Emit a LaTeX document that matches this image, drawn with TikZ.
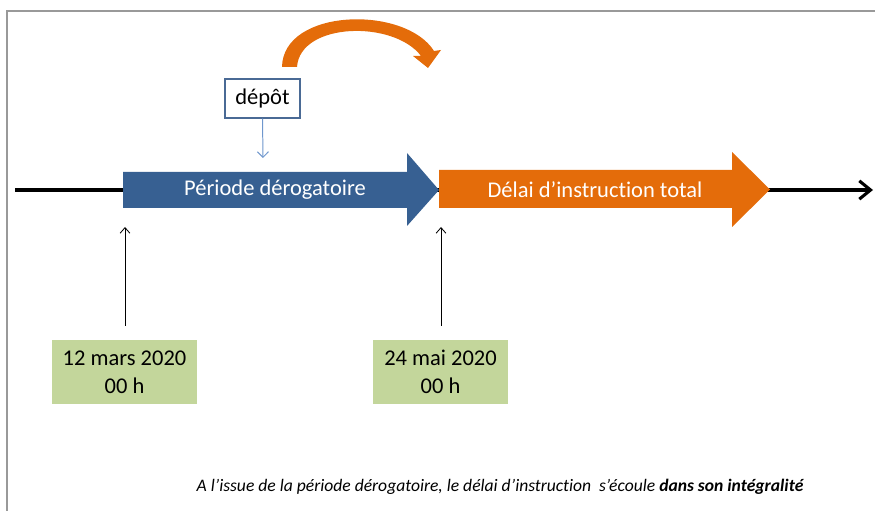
\documentclass[tikz,border=0pt]{standalone}
\usepackage{fontspec}
\setmainfont{Carlito}[Ligatures=NoCommon]
\usetikzlibrary{arrows.meta,positioning}
\definecolor{bleuper}{HTML}{376092}
\definecolor{orangedel}{HTML}{E46C0A}
\definecolor{vertdate}{HTML}{C3D69B}
\definecolor{bleucadre}{HTML}{4A6A95}
\definecolor{bleufin}{HTML}{6F97CD}
\tikzset{
  datebox/.style={fill=vertdate,minimum height=1.6cm,align=center,
    font=\fontsize{16}{20}\selectfont},
  repere/.style={-{Straight Barb[length=4pt,width=7pt]},line width=0.6pt,
    shorten <=0.35cm},
  bandeau/.style={text=white,font=\fontsize{16}{20}\selectfont}
}
\begin{document}
\begin{tikzpicture}[x=0.025cm,y=-0.025cm,line join=miter]
  \useasboundingbox (0,0) rectangle (875,511);
  % cadre
  \draw[gray!80,line width=1.1pt] (7,511) -- (7,11) -- (875,11);
  % axe du temps
  \coordinate (debut) at (15,190);
  \coordinate (fin) at (873,190);
  \draw[line width=2.2pt,-{Straight Barb[length=8pt,width=13pt]}] (debut) -- (fin);
  % fleches pleines
  \fill[bleuper] (123,172) -- (407,172) -- (407,153) -- (439,190)
    -- (407,226) -- (407,208) -- (123,208) -- cycle;
  \fill[orangedel] (439,170) -- (732,170) -- (732,152) -- (770,189.5)
    -- (732,227) -- (732,208) -- (439,208) -- cycle;
  \node[bandeau] (derog) at (275,190) {Période dérogatoire};
  \node[bandeau] (instr) at (595,190) {Délai d’instruction total};
  % fleche courbe
  \fill[orangedel] (282,67) .. controls (283,8) and (405,5) .. (434,51)
    -- (441,50) -- (428,68) -- (413,56) -- (421,56)
    .. controls (394,20) and (300,22) .. (297,67) -- cycle;
  % depot
  \node[draw=bleucadre,line width=0.9pt,fill=white,minimum width=1.875cm,
    minimum height=0.975cm,font=\fontsize{16}{20}\selectfont] (depot)
    at (262.5,98.5) {dépôt};
  \coordinate (cible) at (263,158);
  \draw[bleufin,line width=0.7pt,-{Straight Barb[length=4pt,width=8pt]}]
    (depot.south) -- (cible);
  % dates
  \node[datebox,minimum width=3.625cm] (mars) at (124.5,372)
    {12 mars 2020\\00 h};
  \node[datebox,minimum width=3.375cm] (mai) at (440.5,372)
    {24 mai 2020\\00 h};
  \coordinate (pmars) at (125,227);
  \coordinate (pmai) at (441,227);
  \draw[repere] (mars.north -| pmars) -- (pmars);
  \draw[repere] (mai.north -| pmai) -- (pmai);
  % legende
  \node[font=\itshape\fontsize{12.5}{15}\selectfont] (legende) at (500,487)
    {A l’issue de la période dérogatoire, le délai d’instruction\ \ s’écoule
     \textbf{dans son intégralité}};
\end{tikzpicture}
\end{document}
